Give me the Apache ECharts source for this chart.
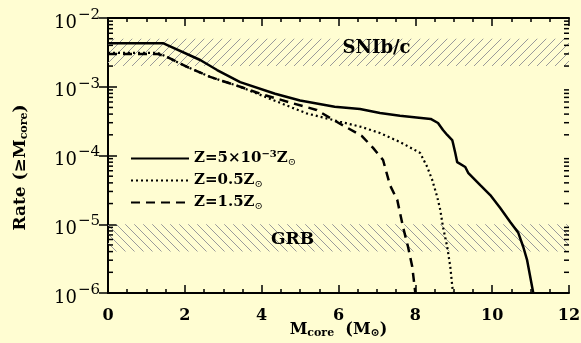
<!DOCTYPE html>
<html>
<head>
<meta charset="utf-8">
<script src="https://cdn.jsdelivr.net/npm/echarts@6/dist/echarts.min.js"></script>
<style>
  html, body { margin: 0; padding: 0; background: #fffdd2; }
  #chart { width: 581px; height: 343px; }
</style>
</head>
<body>
<div id="chart"></div>
<script>
// Z = 5e-3 Zsun (solid)
const lowZ_M = [0, 1.43, 2.4, 2.84, 3.44, 4.35, 5.0, 5.9, 6.56, 7.08, 7.6, 8.4, 8.59, 8.72, 8.83, 8.96, 8.98, 9.04, 9.09, 9.30, 9.375, 9.69, 9.95, 10.21, 10.47, 10.68, 10.81, 10.91, 11.07]
const lowZ_R = [4.3e-3, 4.3e-3, 2.45e-3, 1.75e-3, 1.17e-3, 7.9e-4, 6.3e-4, 5.1e-4, 4.75e-4, 4.15e-4, 3.8e-4, 3.4e-4, 2.97e-4, 2.35e-4, 1.99e-4, 1.68e-4, 1.52e-4, 1.09e-4, 8.0e-5, 6.8e-5, 5.6e-5, 3.7e-5, 2.66e-5, 1.72e-5, 1.08e-5, 7.5e-6, 4.67e-6, 3.0e-6, 1.0e-6]
// Z = 0.5 Zsun (dotted)
const halfZ_M = [0, 1.3, 1.54, 2.06, 2.66, 3.44, 3.87, 4.3, 4.74, 5.17, 6.04, 6.6, 7.08, 7.6, 8.125, 8.31, 8.44, 8.57, 8.65, 8.72, 8.83, 8.91, 8.98]
const halfZ_R = [3.1e-3, 3.1e-3, 2.7e-3, 1.94e-3, 1.39e-3, 1.0e-3, 8.0e-4, 6.4e-4, 5.1e-4, 4.1e-4, 3.1e-4, 2.6e-4, 2.12e-4, 1.57e-4, 1.09e-4, 6.8e-5, 4.4e-5, 2.49e-5, 1.61e-5, 9.1e-6, 4.7e-6, 2.4e-6, 1.0e-6]
// Z = 1.5 Zsun (dashed)
const highZ_M = [0, 1.3, 1.54, 2.06, 2.66, 3.44, 4.0, 4.74, 5.43, 5.95, 6.61, 6.9, 7.16, 7.34, 7.53, 7.68, 7.81, 7.92, 8.0]
const highZ_R = [3.0e-3, 3.0e-3, 2.7e-3, 1.94e-3, 1.39e-3, 1.0e-3, 7.8e-4, 5.9e-4, 4.6e-4, 3.1e-4, 1.92e-4, 1.29e-4, 8.6e-5, 3.7e-5, 2.25e-5, 9.1e-6, 4.7e-6, 2.4e-6, 1.0e-6]

const seriesNames = ['lowZ', 'halfZ', 'highZ']
const legendText = {
  lowZ: '{n|Z=5×10}{sup|−3}{n|Z}{sub|⊙}',
  halfZ: '{n|Z=0.5Z}{sub|⊙}',
  highZ: '{n|Z=1.5Z}{sub|⊙}'
}
// observed bands
const snBand = [2e-3, 5e-3]
const grbBand = [4e-6, 1e-5]
// log minor ticks
const minorY = []
for (let e = -6; e < -2; e++) {
  for (let k = 2; k <= 9; k++) minorY.push(k * Math.pow(10, e))
}

const serif = '"DejaVu Serif", "Liberation Serif", serif'

function hatch(up) {
  const c = document.createElement('canvas')
  c.width = 9
  c.height = 9
  const g = c.getContext('2d')
  g.strokeStyle = '#9a9a9a'
  g.lineWidth = 1
  g.beginPath()
  if (up) {
    g.moveTo(0, 9); g.lineTo(9, 0)
    g.moveTo(-1, 1); g.lineTo(1, -1)
    g.moveTo(8, 10); g.lineTo(10, 8)
  } else {
    g.moveTo(0, 0); g.lineTo(9, 9)
    g.moveTo(-1, 8); g.lineTo(1, 10)
    g.moveTo(8, -1); g.lineTo(10, 1)
  }
  g.stroke()
  return c
}

function pairs(xs, ys) {
  return xs.map((x, i) => [x, ys[i]])
}

const chart = echarts.init(document.getElementById('chart'))

const xAxisBase = {
  type: 'value',
  min: 0,
  max: 12,
  interval: 2,
  axisLine: { show: true, lineStyle: { color: '#000', width: 2 } },
  axisTick: { show: true, inside: true, length: 8, lineStyle: { color: '#000', width: 1.5 } },
  minorTick: { show: true, splitNumber: 4, length: 4, lineStyle: { color: '#000', width: 1.5 } },
  splitLine: { show: false }
}
const yAxisBase = {
  type: 'log',
  logBase: 10,
  min: 1e-6,
  max: 1e-2,
  interval: 1,
  axisLine: { show: true, lineStyle: { color: '#000', width: 2 } },
  axisTick: { show: true, inside: true, length: 9, lineStyle: { color: '#000', width: 1.5 } },
  splitLine: { show: false }
}

const option = {
  backgroundColor: '#fffdd2',
  animation: false,
  grid: { left: 108, right: 12, top: 18, bottom: 50, containLabel: false, outerBoundsMode: 'none' },
  legend: {
    orient: 'vertical',
    left: 125,
    top: 144,
    itemWidth: 58,
    itemHeight: 12,
    itemGap: 6,
    data: seriesNames,
    itemStyle: { opacity: 0 },
    formatter: name => legendText[name],
    textStyle: {
      color: '#000',
      rich: {
        n: { fontFamily: serif, fontWeight: 'bold', fontSize: 15, color: '#000' },
        sup: { fontFamily: serif, fontWeight: 'bold', fontSize: 10, color: '#000', padding: [0, 0, 9, 0] },
        sub: { fontFamily: serif, fontSize: 10, color: '#000', padding: [7, 0, 0, 0] }
      }
    }
  },
  xAxis: [
    Object.assign({}, xAxisBase, {
      position: 'bottom',
      name: '{m|M}{s|core}{m|  (M}{s|⊙}{m|)}',
      nameLocation: 'middle',
      nameGap: 28,
      nameMoveOverlap: false,
      nameTextStyle: {
        rich: {
          m: { fontFamily: serif, fontWeight: 'bold', fontSize: 16, color: '#000' },
          s: { fontFamily: serif, fontWeight: 'bold', fontSize: 11, color: '#000', padding: [7, 0, 0, 0] }
        }
      },
      axisLabel: { margin: 15, color: '#000', fontFamily: serif, fontWeight: 'bold', fontSize: 16 }
    }),
    Object.assign({}, xAxisBase, { position: 'top', axisLabel: { show: false } })
  ],
  yAxis: [
    Object.assign({}, yAxisBase, {
      position: 'left',
      name: '{m|Rate (≥M}{s|core}{m|)}',
      nameLocation: 'middle',
      nameGap: 78,
      nameTextStyle: {
        padding: [0, 24, 0, 0],
        rich: {
          m: { fontFamily: serif, fontWeight: 'bold', fontSize: 17, color: '#000' },
          s: { fontFamily: serif, fontWeight: 'bold', fontSize: 11, color: '#000', padding: [7, 0, 0, 0] }
        }
      },
      axisLabel: {
        margin: 8,
        formatter: v => '{b|10}{s|−' + Math.round(-Math.log10(v)) + '}',
        rich: {
          b: { fontFamily: serif, fontSize: 18, color: '#000', padding: [10, 0, 0, 0] },
          s: { fontFamily: serif, fontSize: 15, color: '#000', padding: [0, 0, 6, 1] }
        }
      }
    }),
    Object.assign({}, yAxisBase, { position: 'right', axisLabel: { show: false } })
  ],
  series: [
    {
      name: 'lowZ',
      type: 'line',
      data: pairs(lowZ_M, lowZ_R),
      symbol: 'none',
      z: 5,
      lineStyle: { color: '#000', width: 2.5, type: 'solid' },
      itemStyle: { color: '#000' },
      markArea: {
        silent: true,
        z: 1,
        data: [
          [
            { xAxis: 0, yAxis: snBand[0], itemStyle: { color: { image: hatch(true), repeat: 'repeat' } },
              label: { show: true, position: 'inside', offset: [38, -4], formatter: 'SNIb/c', fontSize: 18 } },
            { xAxis: 12, yAxis: snBand[1] }
          ],
          [
            { xAxis: 0, yAxis: grbBand[0], itemStyle: { color: { image: hatch(false), repeat: 'repeat' } },
              label: { show: true, position: 'inside', offset: [-46, 2], formatter: 'GRB' } },
            { xAxis: 12, yAxis: grbBand[1] }
          ]
        ],
        label: { color: '#000', fontFamily: serif, fontWeight: 'bold', fontSize: 17 }
      }
    },
    {
      name: 'halfZ',
      type: 'line',
      data: pairs(halfZ_M, halfZ_R),
      symbol: 'none',
      z: 4,
      lineStyle: { color: '#000', width: 2.2, type: [2, 3] },
      itemStyle: { color: '#000' }
    },
    {
      name: 'highZ',
      type: 'line',
      data: pairs(highZ_M, highZ_R),
      symbol: 'none',
      z: 4,
      lineStyle: { color: '#000', width: 2.5, type: [9, 6] },
      itemStyle: { color: '#000' }
    },
    {
      name: 'minorTicks',
      type: 'custom',
      silent: true,
      data: minorY.map(v => [0, v]),
      renderItem: (params, api) => {
        const v = api.value(1)
        const l = api.coord([0, v])
        const r = api.coord([12, v])
        return {
          type: 'group',
          children: [
            { type: 'line', shape: { x1: l[0], y1: l[1], x2: l[0] + 5, y2: l[1] }, style: { stroke: '#000', lineWidth: 1.5 } },
            { type: 'line', shape: { x1: r[0], y1: r[1], x2: r[0] - 5, y2: r[1] }, style: { stroke: '#000', lineWidth: 1.5 } }
          ]
        }
      }
    }
  ]
}

chart.setOption(option)
</script>
</body>
</html>
